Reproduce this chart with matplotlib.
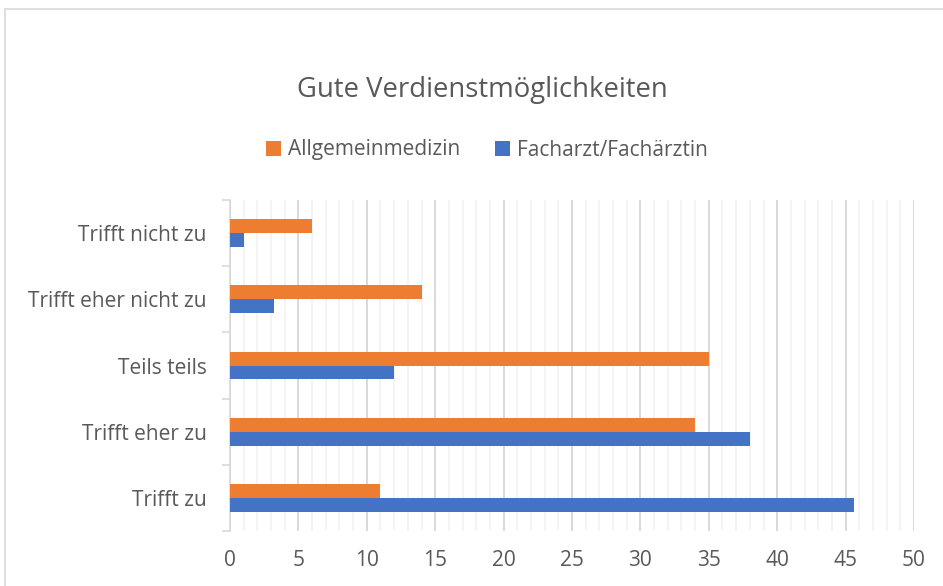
import matplotlib
matplotlib.use("Agg")
import matplotlib.pyplot as plt
from matplotlib.patches import Rectangle
from matplotlib.ticker import MultipleLocator, FixedLocator, NullFormatter

categories = ["Trifft zu", "Trifft eher zu", "Teils teils", "Trifft eher nicht zu", "Trifft nicht zu"]
allgemein = [11, 34, 35, 14, 6]
facharzt = [45.6, 38, 12, 3.2, 1]
series_names = ["Allgemeinmedizin", "Facharzt/Fachärztin"]
title = "Gute Verdienstmöglichkeiten"

ORANGE = "#ED7D31"
BLUE = "#4472C4"
TXT = "#595959"
FONT = "Open Sans"

W, H = 943, 586
fig = plt.figure(figsize=(W / 100, H / 100), dpi=100)
fig.patch.set_facecolor("white")

ax = fig.add_axes([230 / W, 1 - 531 / H, (914 - 230) / W, (531 - 200) / H])

y = list(range(len(categories)))
bh = 0.21
ax.barh([v + bh / 2 for v in y], allgemein, height=bh, color=ORANGE, label=series_names[0], zorder=3)
ax.barh([v - bh / 2 for v in y], facharzt, height=bh, color=BLUE, label=series_names[1], zorder=3)

ax.set_xlim(0, 50)
ax.set_ylim(-0.5, len(categories) - 0.5)
ax.xaxis.set_major_locator(MultipleLocator(5))
ax.xaxis.set_minor_locator(MultipleLocator(1))
ax.grid(axis="x", which="minor", color="#f2f2f2", linewidth=1.2, zorder=0)
ax.grid(axis="x", which="major", color="#d9d9d9", linewidth=1.4, zorder=1)
ax.set_axisbelow(True)

ax.set_yticks(y)
ax.set_yticklabels(categories)
ax.yaxis.set_minor_locator(FixedLocator([v - 0.5 for v in range(len(categories) + 1)]))
ax.yaxis.set_minor_formatter(NullFormatter())
ax.tick_params(axis="y", which="major", length=0, pad=17, labelsize=15, labelcolor=TXT)
ax.tick_params(axis="y", which="minor", length=6, width=1.2, color="#d9d9d9")
ax.tick_params(axis="x", which="both", length=0, pad=14, labelsize=15, labelcolor=TXT)
for lab in ax.get_xticklabels() + ax.get_yticklabels():
    lab.set_fontfamily(FONT)

for s in ["top", "right", "bottom"]:
    ax.spines[s].set_visible(False)
ax.spines["left"].set_color("#d9d9d9")
ax.spines["left"].set_linewidth(1.2)

fig.text(482 / W, 1 - 90 / H, title, ha="center", va="center", fontsize=19.8,
         color=TXT, fontfamily=FONT)

handles, labels = ax.get_legend_handles_labels()
leg = fig.legend(handles, labels, loc="center", bbox_to_anchor=(487 / W, 1 - 150 / H), ncol=2,
                 frameon=False, prop={"family": FONT, "size": 15}, handlelength=0.72,
                 handleheight=0.72, handletextpad=0.3, columnspacing=1.7)
for t in leg.get_texts():
    t.set_color(TXT)

fig.add_artist(Rectangle((4.5 / W, -0.1), 1.2, 1.1 - 8.5 / H, transform=fig.transFigure,
                         fill=False, edgecolor="#d9d9d9", linewidth=1.2))

fig.savefig("out.png", dpi=100)
